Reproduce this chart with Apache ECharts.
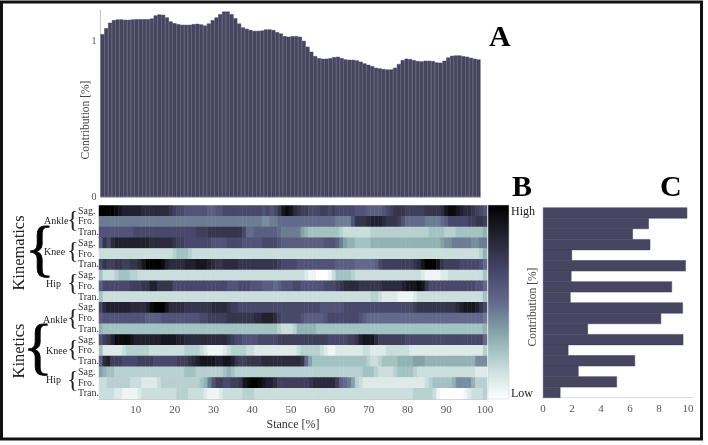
<!DOCTYPE html>
<html>
<head>
<meta charset="utf-8">
<title>Contribution chart</title>
<script src="https://cdn.jsdelivr.net/npm/echarts@6/dist/echarts.min.js"></script>
<style>
html, body { margin: 0; padding: 0; background: #fff; }
#chart { width: 708px; height: 445px; }
</style>
</head>
<body>
<div id="chart"></div>
<script>
// Panel A: contribution per stance percent
const stanceTotal = [
	1.045, 1.083, 1.118, 1.135, 1.139, 1.139, 1.137, 1.137, 1.139, 1.141,
	1.141, 1.141, 1.141, 1.145, 1.165, 1.171, 1.169, 1.152, 1.126, 1.115,
	1.109, 1.105, 1.105, 1.105, 1.109, 1.111, 1.107, 1.100, 1.113, 1.135,
	1.152, 1.173, 1.190, 1.190, 1.173, 1.147, 1.113, 1.088, 1.079, 1.071,
	1.066, 1.066, 1.068, 1.075, 1.075, 1.071, 1.058, 1.049, 1.032, 1.028,
	1.032, 1.032, 1.028, 1.002, 0.964, 0.932, 0.904, 0.891, 0.887, 0.887,
	0.891, 0.897, 0.900, 0.891, 0.882, 0.880, 0.880, 0.876, 0.868, 0.857,
	0.848, 0.840, 0.829, 0.825, 0.821, 0.818, 0.818, 0.829, 0.853, 0.878,
	0.887, 0.885, 0.878, 0.872, 0.870, 0.874, 0.874, 0.872, 0.863, 0.861,
	0.874, 0.895, 0.906, 0.908, 0.908, 0.904, 0.900, 0.893, 0.887, 0.882
]

// Panel B: one row per variable, levels 0 (low) to 20 (high)
const kinAnkleSag = [
	20,20,20,20,19,18,17,17,17,17, 17,16,16,16,16,16,16,16,15,14,
	13,13,12,12,12,12,12,12,11,11, 12,12,13,13,13,13,13,13,13,13,
	13,13,12,13,12,13,15,18,19,18, 16,15,14,14,13,13,13,14,14,13,
	14,13,13,13,13,13,12,12,12,11, 11,11,11,12,13,14,15,15,15,14,
	14,14,14,14,15,15,15,15,16,18, 19,19,18,17,16,16,15,14,13,12
]
const kinAnkleFro = [
	9,9,9,9,9,9,9,9,9,9, 9,9,9,9,9,9,9,9,9,9,
	9,9,9,9,9,9,9,9,9,9, 9,9,9,9,9,9,9,9,9,9,
	9,9,8,8,9,9,10,10,10,10, 10,10,10,10,10,10,10,10,10,10,
	10,9,9,9,9,12,15,15,15,16, 17,17,17,16,15,15,15,14,12,10,
	10,10,10,10,9,9,9,9,10,11, 13,13,13,13,13,14,14,15,15,14
]
const kinAnkleTran = [
	12,12,12,12,12,12,12,12,12,13, 13,13,13,13,13,13,13,13,13,13,
	13,13,13,13,13,14,14,14,15,15, 15,15,15,15,15,15,15,13,10,10,
	11,11,11,11,11,11,10,9,9,9, 9,9,7,6,5,5,5,5,5,5,
	5,5,4,3,3,3,3,3,3,3, 4,4,4,4,4,4,4,4,4,4,
	4,4,4,4,4,5,5,5,5,4, 4,4,5,5,5,5,5,5,5,6
]
const kinKneeSag = [
	11,15,13,16,17,17,17,17,17,17, 17,17,17,16,16,16,16,16,16,15,
	14,14,13,13,13,13,13,13,13,12, 12,12,12,13,13,13,13,12,12,12,
	12,12,13,13,13,13,12,11,11,11, 11,11,11,11,11,11,11,11,12,12,
	12,11,9,7,6,6,5,5,5,5, 6,6,6,6,6,6,6,6,6,6,
	6,6,6,6,6,6,6,6,7,8, 8,9,9,9,9,9,8,8,9,9
]
const kinKneeFro = [
	3,3,3,3,3,3,3,3,3,3, 3,3,3,3,3,3,3,3,3,4,
	5,5,5,4,3,3,3,3,3,3, 3,3,3,3,3,3,3,3,3,3,
	3,3,3,3,3,3,3,3,3,3, 3,3,3,3,3,3,3,3,3,3,
	3,3,3,3,3,3,3,3,3,3, 3,3,3,3,3,3,3,3,3,3,
	3,3,3,3,3,3,3,3,3,3, 3,3,3,3,3,3,3,3,4,6
]
const kinKneeTran = [
	13,15,14,14,15,15,14,14,15,15, 16,18,20,20,20,20,19,17,16,16,
	16,16,17,17,17,18,18,18,17,16, 15,15,16,16,16,16,15,15,15,15,
	15,15,15,15,15,15,14,13,13,13, 13,12,12,12,12,12,12,12,12,12,
	12,11,11,11,11,11,10,10,10,10, 10,11,13,14,14,14,14,14,14,14,
	14,15,16,18,20,20,20,18,15,14, 14,14,14,13,13,13,13,13,12,10
]
const kinHipSag = [
	5,3,3,3,4,5,5,5,4,4, 3,3,3,3,3,3,3,3,3,3,
	3,3,3,3,3,3,3,3,3,3, 3,3,3,3,3,3,3,3,3,3,
	3,3,3,3,3,3,3,3,3,3, 3,3,3,2,1,1,0,0,0,1,
	3,5,5,5,5,4,3,3,3,3, 3,3,3,3,3,3,3,3,3,3,
	3,3,3,2,1,1,1,1,2,2, 3,3,3,3,3,3,3,3,3,5
]
const kinHipFro = [
	11,13,13,13,13,13,13,13,14,14, 14,15,15,17,17,15,15,15,15,13,
	13,13,13,13,13,13,13,13,13,13, 13,13,13,12,12,12,13,13,13,12,
	12,12,11,11,11,10,11,12,12,12, 13,13,12,12,12,12,12,12,13,13,
	13,14,15,16,16,16,16,15,15,15, 15,15,15,16,16,16,16,16,17,18,
	18,18,19,18,15,13,13,13,13,13, 13,13,13,13,13,13,13,12,12,10
]
const kinHipTran = [
	5,3,3,3,3,3,3,3,3,3, 3,3,3,3,3,3,3,3,3,3,
	3,3,3,3,3,3,3,3,3,3, 3,3,3,3,3,3,3,3,3,3,
	3,3,3,3,3,3,3,3,3,3, 3,3,3,3,3,3,3,3,3,3,
	3,3,3,3,3,3,3,3,3,3, 4,4,3,2,2,2,2,1,1,1,
	1,2,3,3,3,3,3,3,3,3, 3,3,3,3,3,3,3,3,3,5
]
const kntAnkleSag = [
	13,16,17,17,17,17,17,17,16,16, 16,16,17,19,20,20,20,18,16,16,
	16,16,15,15,15,15,15,15,15,16, 16,16,16,15,14,14,13,13,13,13,
	13,13,13,13,13,13,13,13,13,13, 13,13,13,13,13,13,13,12,12,12,
	12,12,12,13,13,13,13,13,13,13, 13,13,13,13,13,13,13,13,13,13,
	13,14,15,15,15,15,15,15,15,15, 15,15,16,17,18,18,18,17,15,13
]
const kntAnkleFro = [
	11,12,12,12,12,12,12,12,12,12, 12,12,11,11,11,11,12,12,12,12,
	12,12,12,12,12,12,13,13,14,14, 14,14,14,15,15,15,15,15,15,15,
	16,16,17,17,17,16,14,13,13,13, 13,13,12,11,11,11,11,11,12,13,
	13,13,13,13,13,13,13,12,11,10, 10,10,10,10,10,10,10,10,10,10,
	10,10,10,10,10,10,10,10,10,10, 10,10,10,10,10,10,10,10,10,9
]
const kntAnkleTran = [
	6,5,5,5,5,5,5,5,5,5, 5,5,5,5,5,5,5,5,5,5,
	5,5,5,5,5,5,5,5,5,5, 5,5,5,5,5,5,5,5,5,5,
	5,5,5,5,5,5,4,3,3,3, 4,6,6,6,6,6,5,5,5,5,
	5,5,5,5,5,5,5,5,5,5, 5,5,5,5,5,5,5,5,5,5,
	5,5,5,5,5,5,5,5,5,5, 5,5,5,5,5,5,5,5,5,6
]
const kntKneeSag = [
	12,14,15,17,19,19,19,19,18,17, 17,17,17,17,17,17,18,18,18,18,
	17,17,16,16,16,16,16,16,16,16, 16,16,16,15,14,13,13,12,12,12,
	12,13,13,13,13,13,14,14,14,14, 14,14,14,14,14,14,14,14,14,13,
	13,13,13,13,14,14,15,17,18,18, 18,16,14,14,14,14,14,14,14,13,
	13,13,13,13,13,13,13,13,13,13, 13,13,13,13,13,13,13,13,13,10
]
const kntKneeFro = [
	5,2,2,2,2,2,3,4,4,4, 4,4,4,3,3,3,3,3,3,3,
	3,3,4,4,4,4,3,2,1,1, 1,1,2,3,4,4,4,4,3,3,
	2,2,2,2,2,2,2,2,2,2, 2,3,4,4,4,4,4,3,2,1,
	1,2,2,2,2,2,2,2,3,3, 2,2,2,2,3,3,3,3,3,3,
	2,2,2,2,2,2,2,2,2,2, 2,2,2,2,2,2,2,2,2,4
]
const kntKneeTran = [
	11,16,17,14,14,14,13,13,13,13, 14,14,14,14,13,13,13,13,13,13,
	14,14,14,15,16,17,18,18,18,18, 17,17,18,18,17,15,14,14,15,15,
	15,15,16,16,16,16,16,16,16,16, 16,16,15,10,7,5,5,5,5,5,
	5,5,5,5,5,5,5,5,5,4, 3,3,4,5,5,5,5,6,6,6,
	6,7,7,7,6,6,6,6,6,6, 6,6,6,6,6,6,6,8,8,8
]
const kntHipSag = [
	7,6,5,5,4,4,4,4,4,4, 4,4,4,4,4,4,4,4,4,4,
	4,4,5,5,5,4,4,4,4,4, 4,4,5,6,5,4,4,4,4,4,
	4,4,4,4,4,4,4,4,4,4, 4,4,4,4,4,4,4,4,4,4,
	4,4,4,4,4,4,4,4,5,5, 5,4,3,3,3,3,4,5,5,5,
	5,4,3,3,3,3,3,3,3,3, 3,3,3,3,3,3,3,2,2,2
]
const kntHipFro = [
	3,3,4,4,4,4,4,4,3,3, 3,2,2,2,2,3,4,4,4,4,
	4,4,4,4,4,4,5,6,9,12, 14,14,13,13,14,14,15,18,19,20,
	20,19,18,17,17,16,14,14,14,14, 14,14,14,14,15,16,16,16,16,16,
	16,14,11,10,9,7,4,3,2,2, 2,2,2,2,2,2,2,2,2,2,
	2,2,2,2,3,4,5,5,5,5, 5,6,8,8,8,8,6,4,4,4
]
const kntHipTran = [
	3,3,3,3,2,2,1,1,1,1, 2,3,3,3,3,3,3,3,3,3,
	4,4,4,3,3,3,3,2,1,1, 1,2,3,3,3,3,3,4,4,4,
	3,3,3,3,3,3,3,3,3,3, 3,3,3,3,3,3,3,3,3,3,
	3,3,3,3,3,3,3,3,3,3, 3,3,3,3,3,3,3,3,3,3,
	3,4,4,4,4,4,3,1,0,0, 0,0,0,0,1,2,3,3,3,4
]
const heatRows = [
	kinAnkleSag, kinAnkleFro, kinAnkleTran, kinKneeSag, kinKneeFro, kinKneeTran,
	kinHipSag, kinHipFro, kinHipTran, kntAnkleSag, kntAnkleFro, kntAnkleTran,
	kntKneeSag, kntKneeFro, kntKneeTran, kntHipSag, kntHipFro, kntHipTran
]
const planes = ['Sag.', 'Fro.', 'Tran.']
const rowLabels = [...planes, ...planes, ...planes, ...planes, ...planes, ...planes]
const stanceLabels = stanceTotal.map((_, i) => String(i + 1))

// Panel C: contribution per variable, same order as the rows
const rowContribution = [9.95, 7.3, 6.2, 7.4, 2.0, 9.85, 1.96, 8.9, 1.9, 9.65, 8.15, 3.1, 9.68, 1.75, 6.35, 2.45, 5.1, 1.2]

const heatColors = ['#ffffff', '#d4e5e3', '#a3c3c3', '#7c99a1', '#62698a', '#4d4d73', '#35354c', '#1b1b26', '#000000']

const serif = '"Liberation Serif", "Times New Roman", serif'
const barColor = '#47455f'
const seamColor = '#3f3d5a'
const axisGray = '#c9c9c9'
const labelGray = '#555'

const heatData = []
heatRows.forEach((row, y) => row.forEach((v, x) => heatData.push([x, y, v])))

const textMark = (x, y, text, fontSize, extra) => ({
	type: 'text',
	x, y,
	style: Object.assign({ text, fontSize, fontFamily: serif, fill: '#222', align: 'left', verticalAlign: 'middle' }, extra || {})
})
const sideText = (x, y, text, fontSize, fill) => ({
	type: 'text',
	x, y,
	rotation: Math.PI / 2,
	style: { text, fontSize, fontFamily: serif, fill, align: 'center', verticalAlign: 'middle' }
})

const chart = echarts.init(document.getElementById('chart'), null, { renderer: 'canvas' })

chart.setOption({
	animation: false,
	backgroundColor: '#fff',
	textStyle: { fontFamily: serif },
	grid: [
		{ left: 100.5, top: 10, width: 380, height: 187 },
		{ left: 99, top: 205.5, width: 388, height: 193.5 },
		{ left: 543, top: 207.7, width: 150, height: 190 }
	],
	xAxis: [
		{
			gridIndex: 0, type: 'category', data: stanceLabels,
			axisLine: { lineStyle: { color: axisGray } },
			axisTick: { show: false }, axisLabel: { show: false }
		},
		{
			gridIndex: 1, type: 'category', data: stanceLabels,
			name: 'Stance [%]', nameLocation: 'center', nameGap: 20, nameMoveOverlap: false,
			nameTextStyle: { fontFamily: serif, fontSize: 12, color: '#333' },
			axisLine: { lineStyle: { color: axisGray } },
			axisTick: { show: false },
			axisLabel: {
				interval: (i) => (i + 1) % 10 === 0,
				fontFamily: serif, fontSize: 11, color: labelGray, margin: 6
			}
		},
		{
			gridIndex: 2, type: 'value', min: 0, max: 10.35, interval: 2,
			splitLine: { show: false },
			axisLine: { show: true, lineStyle: { color: '#ddd' } },
			axisTick: { show: false },
			axisLabel: { showMaxLabel: false, fontFamily: serif, fontSize: 11, color: labelGray, margin: 6 }
		}
	],
	yAxis: [
		{
			gridIndex: 0, type: 'value', min: 0, max: 1.2, interval: 1,
			splitLine: { show: false },
			axisLine: { show: true, lineStyle: { color: axisGray } },
			axisTick: { show: false },
			axisLabel: { showMaxLabel: false, fontFamily: serif, fontSize: 10, color: labelGray, margin: 4 }
		},
		{
			gridIndex: 1, type: 'category', inverse: true, data: rowLabels,
			axisLine: { show: false }, axisTick: { show: false },
			axisLabel: { interval: 0, align: 'left', margin: 21, fontFamily: serif, fontSize: 10, color: '#333' }
		},
		{
			gridIndex: 2, type: 'category', inverse: true, data: rowLabels,
			axisLine: { show: false }, axisTick: { show: false }, axisLabel: { show: false }
		}
	],
	visualMap: {
		type: 'continuous', seriesIndex: 1, min: 0, max: 20, show: false,
		inRange: { color: heatColors }
	},
	series: [
		{
			type: 'bar', xAxisIndex: 0, yAxisIndex: 0, data: stanceTotal,
			barWidth: '100%',
			itemStyle: { color: barColor, borderColor: seamColor, borderWidth: 0.5 }
		},
		{
			type: 'heatmap', xAxisIndex: 1, yAxisIndex: 1, data: heatData,
			progressive: 0
		},
		{
			type: 'bar', xAxisIndex: 2, yAxisIndex: 2, data: rowContribution,
			barWidth: '104%',
			itemStyle: { color: barColor, borderColor: seamColor, borderWidth: 0.5 }
		}
	],
	graphic: [
		// colour bar, top is high
		{
			type: 'rect',
			shape: { x: 488, y: 205, width: 21, height: 194 },
			style: {
				fill: new echarts.graphic.LinearGradient(0, 1, 0, 0,
					heatColors.map((color, i) => ({ offset: i / (heatColors.length - 1), color }))),
				stroke: '#ccc', lineWidth: 0.5
			}
		},
		{ type: 'rect', shape: { x: 1.5, y: 2, width: 700, height: 437 }, style: { fill: 'none', stroke: '#111', lineWidth: 3 } },
		textMark(489, 38, 'A', 30, { fontWeight: 'bold', fill: '#000' }),
		textMark(512, 188, 'B', 30, { fontWeight: 'bold', fill: '#000' }),
		textMark(660, 188, 'C', 30, { fontWeight: 'bold', fill: '#000' }),
		textMark(511, 212, 'High', 12),
		textMark(511, 394, 'Low', 12),
		textMark(44, 221, 'Ankle', 10),
		textMark(44, 252, 'Knee', 10),
		textMark(46, 284, 'Hip', 10),
		textMark(43, 320, 'Ankle', 10),
		textMark(46, 351, 'Knee', 10),
		textMark(46, 380, 'Hip', 10),
		sideText(86, 120, 'Contribution [%]', 11.5, '#444'),
		sideText(533, 307, 'Contribution [%]', 11.5, '#444'),
		sideText(20, 253, 'Kinematics', 16.5, '#222'),
		sideText(20, 351, 'Kinetics', 16.5, '#222'),
		textMark(25, 253, '{', 62, { fill: '#000', stroke: '#000', lineWidth: 0.8 }),
		textMark(23, 351, '{', 62, { fill: '#000', stroke: '#000', lineWidth: 0.8 }),
		textMark(67, 221, '{', 24),
		textMark(67, 252, '{', 24),
		textMark(67, 284, '{', 24),
		textMark(67, 319, '{', 24),
		textMark(67, 350, '{', 24),
		textMark(67, 381, '{', 24)
	]
})
</script>
</body>
</html>
